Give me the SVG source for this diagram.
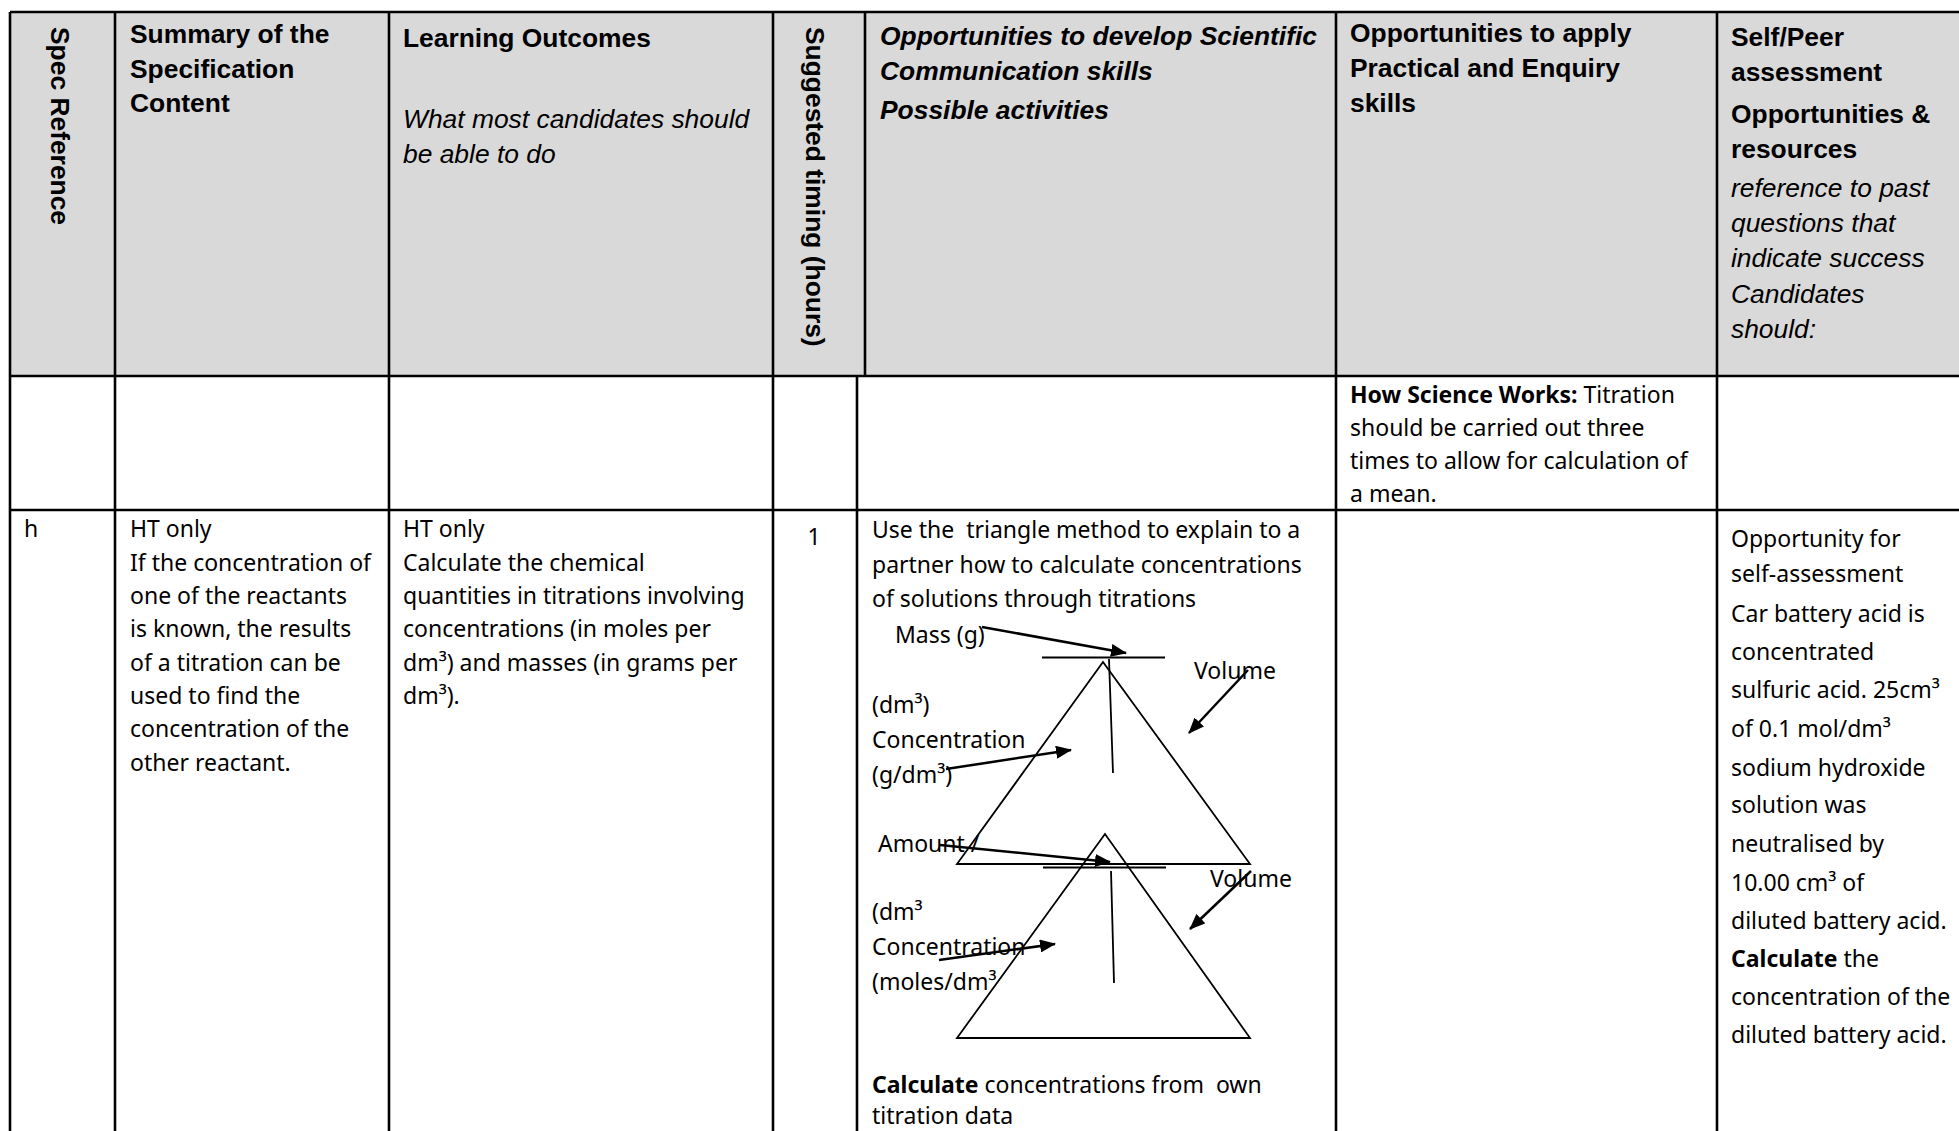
<svg xmlns="http://www.w3.org/2000/svg" width="1959" height="1131" viewBox="0 0 1959 1131">
<style>
.hd{font-family:"Liberation Sans",Arial,sans-serif;font-size:26.4px;font-weight:bold;fill:#000}
.hi{font-style:italic;font-weight:normal}
.bi{font-style:italic}
.bd{font-family:"Noto Sans",sans-serif;font-size:23px;fill:#000;white-space:pre}
.b{font-weight:bold}
.grid{stroke:#000;stroke-width:2.6;fill:none}
.tri{stroke:#000;stroke-width:1.8;fill:none}
.arr{stroke:#000;stroke-width:2.5;fill:none;marker-end:url(#ah)}
</style>
<defs>
<marker id="ah" viewBox="0 0 16 13" refX="15" refY="6.5" markerWidth="16" markerHeight="13" markerUnits="userSpaceOnUse" orient="auto">
<path d="M0,0 L16,6.5 L0,13 z" fill="#000"/>
</marker>
</defs>
<rect x="0" y="0" width="1959" height="1131" fill="#fff"/>
<rect id="header-bg" x="10" y="12" width="1949" height="364" fill="#d9d9d9"/>

<g id="grid">
<path class="grid" d="M10,12 H1959 M10,376 H1959 M10,510 H1959 M10,12 V1131 M115,12 V1131 M389,12 V1131 M773,12 V1131 M865,12 V376 M857,376 V1131 M1336,12 V1131 M1717,12 V1131"/>
</g>

<g id="h-spec">
<text class="hd" transform="translate(51,27) rotate(90)">Spec Reference</text>
</g>
<g id="h-summary">
<text class="hd" x="130" y="43">Summary of the</text>
<text class="hd" x="130" y="78">Specification</text>
<text class="hd" x="130" y="112">Content</text>
</g>
<g id="h-outcomes">
<text class="hd" x="403" y="47">Learning Outcomes</text>
<text class="hd hi" x="403" y="128">What most candidates should</text>
<text class="hd hi" x="403" y="163">be able to do</text>
</g>
<g id="h-timing">
<text class="hd" transform="translate(806,27) rotate(90)">Suggested timing (hours)</text>
</g>
<g id="h-comm">
<text class="hd bi" x="880" y="45">Opportunities to develop Scientific</text>
<text class="hd bi" x="880" y="80">Communication skills</text>
<text class="hd bi" x="880" y="119">Possible activities</text>
</g>
<g id="h-practical">
<text class="hd" x="1350" y="42">Opportunities to apply</text>
<text class="hd" x="1350" y="77">Practical and  Enquiry</text>
<text class="hd" x="1350" y="112">skills</text>
</g>
<g id="h-assess">
<text class="hd" x="1731" y="46">Self/Peer</text>
<text class="hd" x="1731" y="81">assessment</text>
<text class="hd" x="1731" y="123">Opportunities &amp;</text>
<text class="hd" x="1731" y="158">resources</text>
<text class="hd hi" x="1731" y="197">reference to past</text>
<text class="hd hi" x="1731" y="232">questions that</text>
<text class="hd hi" x="1731" y="267">indicate success</text>
<text class="hd hi" x="1731" y="303">Candidates</text>
<text class="hd hi" x="1731" y="338">should:</text>
</g>

<g id="r1-practical">
<text class="bd" x="1350" y="403"><tspan class="b">How Science Works:</tspan> Titration</text>
<text class="bd" x="1350" y="436">should be carried out three</text>
<text class="bd" x="1350" y="469">times to allow for calculation of</text>
<text class="bd" x="1350" y="502">a mean.</text>
</g>

<g id="r2-spec">
<text class="bd" x="24" y="537">h</text>
</g>
<g id="r2-summary">
<text class="bd" x="130" y="537">HT only</text>
<text class="bd" x="130" y="570.5">If the concentration of</text>
<text class="bd" x="130" y="604">one of the reactants</text>
<text class="bd" x="130" y="637">is known, the results</text>
<text class="bd" x="130" y="670.5">of a titration can be</text>
<text class="bd" x="130" y="704">used to find the</text>
<text class="bd" x="130" y="737">concentration of the</text>
<text class="bd" x="130" y="770.5">other reactant.</text>
</g>
<g id="r2-outcomes">
<text class="bd" x="403" y="537">HT only</text>
<text class="bd" x="403" y="570.5">Calculate the chemical</text>
<text class="bd" x="403" y="604">quantities in titrations involving</text>
<text class="bd" x="403" y="637">concentrations (in moles per</text>
<text class="bd" x="403" y="670.5">dm³) and masses (in grams per</text>
<text class="bd" x="403" y="704">dm³).</text>
</g>
<g id="r2-timing">
<text class="bd" x="814" y="545" text-anchor="middle">1</text>
</g>
<g id="r2-comm">
<text class="bd" x="872" y="538">Use the  triangle method to explain to a</text>
<text class="bd" x="872" y="573">partner how to calculate concentrations</text>
<text class="bd" x="872" y="607">of solutions through titrations</text>
<text class="bd" x="872" y="1093"><tspan class="b">Calculate</tspan> concentrations from  own</text>
<text class="bd" x="872" y="1124">titration data</text>
</g>

<g id="triangle-mass">
<line class="tri" x1="1042" y1="657.5" x2="1165" y2="657.5"/>
<polygon class="tri" points="1103,662 957,864 1250,864"/>
<line class="tri" x1="1109" y1="659" x2="1113" y2="773"/>
<text class="bd" x="895" y="643">Mass (g)</text>
<text class="bd" x="1194" y="679">Volume</text>
<text class="bd" x="872" y="713">(dm³)</text>
<text class="bd" x="872" y="748">Concentration</text>
<text class="bd" x="872" y="783">(g/dm³)</text>
</g>
<g id="triangle-moles">
<line class="tri" x1="1043" y1="867.5" x2="1166" y2="867.5"/>
<polygon class="tri" points="1105,834 957,1038 1250,1038"/>
<line class="tri" x1="1111" y1="871" x2="1114" y2="983"/>
<text class="bd" x="878" y="852">Amount /</text>
<text class="bd" x="1210" y="887">Volume</text>
<text class="bd" x="872" y="920">(dm³</text>
<text class="bd" x="872" y="955">Concentration</text>
<text class="bd" x="872" y="990">(moles/dm³</text>
</g>

<g id="connectors">
<line class="arr" x1="982" y1="627" x2="1126" y2="653"/>
<line class="arr" x1="1248" y1="670" x2="1189" y2="733"/>
<line class="arr" x1="946" y1="769" x2="1071" y2="750"/>
<line class="arr" x1="940" y1="845" x2="1110" y2="862"/>
<line class="arr" x1="1251" y1="871" x2="1190" y2="929"/>
<line class="arr" x1="939" y1="960" x2="1055" y2="944"/>
</g>

<g id="r2-assess">
<text class="bd" x="1731" y="547">Opportunity for</text>
<text class="bd" x="1731" y="582">self-assessment</text>
<text class="bd" x="1731" y="622">Car battery acid is</text>
<text class="bd" x="1731" y="660">concentrated</text>
<text class="bd" x="1731" y="698">sulfuric acid. 25cm³</text>
<text class="bd" x="1731" y="737">of 0.1 mol/dm³</text>
<text class="bd" x="1731" y="776">sodium hydroxide</text>
<text class="bd" x="1731" y="813">solution was</text>
<text class="bd" x="1731" y="852">neutralised by</text>
<text class="bd" x="1731" y="891">10.00 cm³ of</text>
<text class="bd" x="1731" y="929">diluted battery acid.</text>
<text class="bd" x="1731" y="967"><tspan class="b">Calculate</tspan> the</text>
<text class="bd" x="1731" y="1005">concentration of the</text>
<text class="bd" x="1731" y="1043">diluted battery acid.</text>
</g>
</svg>
